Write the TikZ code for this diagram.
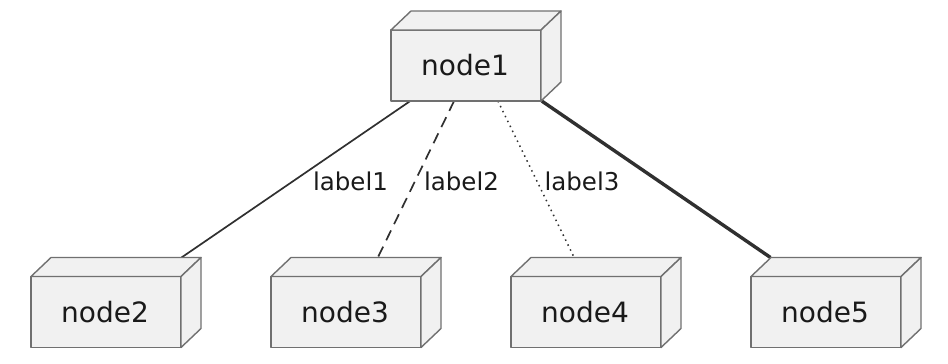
\documentclass[tikz,border=0pt]{standalone}
\usepackage{fontspec}
\setmainfont{DejaVu Sans}
\definecolor{boxfill}{HTML}{F1F1F1}
\definecolor{boxline}{HTML}{707070}
\definecolor{edgecol}{HTML}{303030}
\definecolor{txt}{HTML}{1A1A1A}
\tikzset{
  nodebox/.style={minimum width=170pt, minimum height=90pt, inner sep=0pt, outer sep=0pt},
  face/.style={fill=boxfill, draw=boxline, line width=1.4pt, line join=round},
  nodetext/.style={font=\fontsize{28}{32}\selectfont, text=txt},
  edgelabel/.style={font=\fontsize{24.5}{28}\selectfont, text=txt, inner sep=0pt},
  conn/.style={draw=edgecol, line width=1.7pt},
  thickconn/.style={draw=edgecol, line width=3.4pt},
}
\newcommand\cubenode[3]{%
  % #1 name, #2 center, #3 text
  \node[nodebox] (#1) at (#2) {};
  \path[face] (#1.south west) -- ++(150,0) -- ++(0,-71) -- ++(-150,0) -- cycle;
  \path[face] ($(#1.south west)+(0,-71)$) -- ++(20,-19) -- ++(150,0) -- ++(-20,19) -- cycle;
  \path[face] ($(#1.south west)+(150,0)$) -- ++(20,-19) -- ++(0,-71) -- ++(-20,19) -- cycle;
  \node[nodetext] (#1-t) at ($(#1.south west)+(74,-35.5)$) {#3};
}
\usetikzlibrary{calc}
\begin{document}
\begin{tikzpicture}[x=1pt,y=-1pt]
\useasboundingbox (0,0) rectangle (948,364);
\node[nodebox] (n1) at (476,56) {};
\node[nodebox] (n2) at (116,302.5) {};
\node[nodebox] (n3) at (356,302.5) {};
\node[nodebox] (n4) at (596,302.5) {};
\node[nodebox] (n5) at (836,302.5) {};
\draw[conn] (n1) -- (n2);
\draw[conn, dash pattern=on 11pt off 7pt] (n1) -- (n3);
\draw[conn, line width=1.5pt, dash pattern=on 1.5pt off 4pt] (n1) -- (n4);
\draw[thickconn] (n1) -- (n5);
\cubenode{n1}{476,56}{node1}
\cubenode{n2}{116,302.5}{node2}
\cubenode{n3}{356,302.5}{node3}
\cubenode{n4}{596,302.5}{node4}
\cubenode{n5}{836,302.5}{node5}
\node[edgelabel] (l1) at (350.5,181) {label1};
\node[edgelabel] (l2) at (461.5,181) {label2};
\node[edgelabel] (l3) at (582,181) {label3};
\end{tikzpicture}
\end{document}
